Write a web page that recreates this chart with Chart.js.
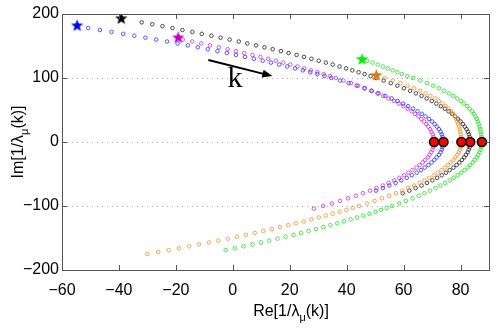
<!DOCTYPE html>
<html>
<head>
<meta charset="utf-8">
<script src="https://cdn.jsdelivr.net/npm/chart.js@4/dist/chart.umd.min.js"></script>
<style>
  html, body { margin: 0; padding: 0; background: #fff; }
</style>
</head>
<body>
<canvas id="eigChart" width="498" height="331"></canvas>
<script>
// Axis ticks
const xTickValues = [-60, -40, -20, 0, 20, 40, 60, 80];
const yTickValues = [-200, -100, 0, 100, 200];

// Curves: Re / Im of 1/lambda_mu(k)
const blueIm = [178, 175, 172, 169, 166, 163, 160, 157, 154, 151, 148, 145, 142, 139, 136, 133, 130, 127, 124, 121, 118, 115, 112, 109, 106, 103, 100,
  96, 92, 88, 84, 80, 76, 72, 68, 64, 60, 56, 52, 48, 44, 40, 36, 32, 28, 24, 20, 16, 12, 8, 4, 0,
  -4, -8, -12, -16, -20, -24, -28, -32, -36, -40, -44, -48, -52, -56, -60, -64, -68, -72, -76];
const blueRe = [-50.8, -46.7, -42.6, -38.5, -34.6, -30.7, -26.9, -23.1, -19.4, -15.8, -12.3, -8.8, -5.4, -2.1, 1.1, 4.3, 7.4, 10.5, 13.4, 16.3, 19.1, 21.9, 24.6, 27.2, 29.7, 32.2, 34.6,
  37.7, 40.7, 43.5, 46.2, 48.8, 51.2, 53.6, 55.8, 57.9, 59.8, 61.6, 63.3, 64.9, 66.4, 67.7, 68.9, 70.0, 70.9, 71.7, 72.4, 73.0, 73.4, 73.7, 73.9, 74.0,
  73.9, 73.7, 73.4, 73.0, 72.4, 71.6, 70.8, 69.8, 68.7, 67.4, 66.1, 64.6, 62.9, 61.1, 59.2, 57.2, 55.0, 52.7, 50.3];

const magentaIm = [160, 157, 154, 151, 148, 145, 142, 139, 136, 133, 130, 127, 124, 121, 118, 115, 112, 109, 106, 103, 100,
  96, 92, 88, 84, 80, 76, 72, 68, 64, 60, 56, 52, 48, 44, 40, 36, 32, 28, 24, 20, 16, 12, 8, 4, 0,
  -4, -8, -12, -16, -20, -24, -28, -32, -36, -40, -44, -48, -52, -56, -60, -64, -68, -72, -76, -80, -84, -88, -92, -96, -100, -104];
const magentaRe = [-17.6, -14.3, -11.1, -8.0, -4.9, -1.8, 1.1, 4.0, 6.9, 9.7, 12.4, 15.1, 17.7, 20.2, 22.7, 25.1, 27.4, 29.7, 31.9, 34.1, 36.2,
  38.9, 41.5, 44.0, 46.4, 48.6, 50.8, 52.8, 54.7, 56.6, 58.3, 59.9, 61.4, 62.8, 64.0, 65.2, 66.2, 67.2, 68.0, 68.7, 69.3, 69.8, 70.2, 70.5, 70.6, 70.7,
  70.6, 70.5, 70.1, 69.7, 69.1, 68.5, 67.6, 66.7, 65.6, 64.5, 63.1, 61.7, 60.2, 58.5, 56.7, 54.7, 52.7, 50.5, 48.2, 45.7, 43.2, 40.5, 37.7, 34.8, 31.7, 28.5];

const blackIm = [187, 184, 181, 178, 175, 172, 169, 166, 163, 160, 157, 154, 151, 148, 145, 142, 139, 136, 133, 130, 127, 124, 121, 118, 115, 112, 109, 106, 103, 100,
  96, 92, 88, 84, 80, 76, 72, 68, 64, 60, 56, 52, 48, 44, 40, 36, 32, 28, 24, 20, 16, 12, 8, 4, 0,
  -4, -8, -12, -16, -20, -24, -28, -32, -36, -40, -44, -48, -52, -56, -60, -64, -68, -72, -76, -80];
const blackRe = [-32.0, -28.3, -24.7, -21.2, -17.7, -14.2, -10.9, -7.5, -4.3, -1.1, 2.1, 5.1, 8.2, 11.1, 14.0, 16.9, 19.6, 22.4, 25.0, 27.6, 30.2, 32.7, 35.1, 37.5, 39.8, 42.0, 44.2, 46.3, 48.4, 50.4,
  53.0, 55.5, 57.8, 60.1, 62.3, 64.3, 66.3, 68.1, 69.9, 71.5, 73.1, 74.5, 75.8, 77.0, 78.1, 79.1, 80.0, 80.8, 81.5, 82.1, 82.6, 82.9, 83.2, 83.3, 83.4,
  83.3, 83.2, 82.9, 82.5, 81.9, 81.3, 80.5, 79.6, 78.6, 77.5, 76.2, 74.9, 73.4, 71.8, 70.1, 68.2, 66.3, 64.2, 62.0, 59.7];

const greenIm = [127, 124, 121, 118, 115, 112, 109, 106, 103, 100,
  96, 92, 88, 84, 80, 76, 72, 68, 64, 60, 56, 52, 48, 44, 40, 36, 32, 28, 24, 20, 16, 12, 8, 4, 0,
  -4, -8, -12, -16, -20, -24, -28, -32, -36, -40, -44, -48, -52, -56, -60, -64, -68, -72, -76, -80, -84, -88, -92, -96, -100,
  -103, -106, -109, -112, -115, -118, -121, -124, -127, -130, -133, -136, -139, -142, -145, -148, -151, -154, -157, -160, -163, -166, -169];
const greenRe = [47.2, 49.1, 50.9, 52.7, 54.4, 56.1, 57.8, 59.4, 61.3, 63.3,
  65.9, 68.2, 70.4, 72.4, 74.2, 75.9, 77.4, 78.8, 80.1, 81.2, 82.3, 83.2, 84.0, 84.7, 85.3, 85.7, 86.1, 86.4, 86.7, 86.9, 87.1, 87.3, 87.4, 87.5, 87.5,
  87.4, 87.3, 87.0, 86.7, 86.2, 85.7, 85.0, 84.3, 83.4, 82.5, 81.4, 80.2, 79.0, 77.6, 76.2, 74.6, 72.9, 71.2, 69.3, 67.3, 65.3, 63.1, 60.8, 58.5, 56.0,
  54.1, 52.1, 50.1, 48.0, 45.8, 43.6, 41.4, 39.1, 36.7, 34.3, 31.8, 29.2, 26.6, 24.0, 21.3, 18.5, 15.7, 12.8, 9.9, 6.9, 3.8, 0.7, -2.5];

const orangeIm = [100, 96, 92, 88, 84, 80, 76, 72, 68, 64, 60, 56, 52, 48, 44, 40, 36, 32, 28, 24, 20, 16, 12, 8, 4, 0,
  -4, -8, -12, -16, -20, -24, -28, -32, -36, -40, -44, -48, -52, -56, -60, -64, -68, -72, -76, -80, -84, -88, -92, -96, -100,
  -103, -106, -109, -112, -115, -118, -121, -124, -127, -130, -133, -136, -139, -142, -145, -148, -151, -154, -157, -160, -163, -166, -169, -172, -175];
const orangeRe = [53.3, 56.2, 58.9, 61.4, 63.7, 65.8, 67.7, 69.4, 71.0, 72.4, 73.7, 74.8, 75.8, 76.7, 77.4, 78.1, 78.5, 78.9, 79.2, 79.5, 79.7, 79.9, 80.1, 80.2, 80.3, 80.3,
  80.2, 80.1, 79.8, 79.4, 78.9, 78.2, 77.5, 76.6, 75.6, 74.5, 73.3, 72.0, 70.6, 69.0, 67.3, 65.6, 63.7, 61.6, 59.5, 57.3, 54.9, 52.4, 49.8, 47.1, 44.3,
  42.1, 39.9, 37.5, 35.1, 32.7, 30.2, 27.6, 24.9, 22.2, 19.5, 16.6, 13.7, 10.7, 7.7, 4.6, 1.4, -1.8, -5.1, -8.4, -11.9, -15.3, -18.9, -22.5, -26.2, -30.0];

// Start of each curve (stars), order: blue, black, magenta, green, orange
const startRe = [-54.7, -39.2, -19.2, 45.4, 50.4];
const startIm = [181.6, 192.6, 162.8, 129, 104];
const startColors = ['#0000ff', '#000000', '#c000c0', '#00ee00', '#e07a10'];

// Crossing of the real axis (red dots)
const vertexRe = [70.7, 74.0, 80.3, 83.4, 87.5];
const vertexIm = [0, 0, 0, 0, 0];

// Arrow and label
const arrowFrom = [-8.6, 128];
const arrowTo = [13.9, 103];
const kLabelAt = [0.8, 86];

const xTitleParts = ['Re[1/λ', 'μ', '(k)]'];
const yTitleParts = ['Im[1/λ', 'μ', '(k)]'];

const FONT = '"Liberation Sans", Arial, Helvetica, sans-serif';

function toPoints(re, im) {
    return re.map((x, i) => ({ x, y: im[i] }));
}

function fmt(v) {
    return String(v).replace('-', '\u2212');
}

// Filled pentagram used as point style
function makeStar(color, r) {
    const size = Math.ceil(r * 2 + 2);
    const c = document.createElement('canvas');
    c.width = size;
    c.height = size;
    const g = c.getContext('2d');
    g.beginPath();
    for (let i = 0; i < 10; i++) {
        const rad = i % 2 ? r * 0.42 : r;
        const ang = -Math.PI / 2 + i * Math.PI / 5;
        g.lineTo(size / 2 + rad * Math.cos(ang), size / 2 + rad * Math.sin(ang));
    }
    g.closePath();
    g.fillStyle = color;
    g.fill();
    return c;
}

function curve(re, im, color) {
    return {
        data: toPoints(re, im),
        showLine: false,
        borderColor: color,
        backgroundColor: 'rgba(0,0,0,0)',
        pointRadius: 1.8,
        pointBorderWidth: 0.8,
        pointHoverRadius: 1.8,
        order: 3
    };
}

// Text with a subscript in the middle part
function drawSubText(ctx, parts, size) {
    ctx.font = size + 'px ' + FONT;
    const w0 = ctx.measureText(parts[0]).width;
    ctx.font = Math.round(size * 0.7) + 'px ' + FONT;
    const w1 = ctx.measureText(parts[1]).width;
    ctx.font = size + 'px ' + FONT;
    const w2 = ctx.measureText(parts[2]).width;
    let x = -(w0 + w1 + w2) / 2;
    ctx.textAlign = 'left';
    ctx.textBaseline = 'alphabetic';
    ctx.fillText(parts[0], x, 0);
    x += w0;
    ctx.font = Math.round(size * 0.7) + 'px ' + FONT;
    ctx.fillText(parts[1], x, size * 0.3);
    x += w1;
    ctx.font = size + 'px ' + FONT;
    ctx.fillText(parts[2], x, 0);
}

const decorations = {
    id: 'decorations',
    afterDatasetsDraw(chart) {
        const { ctx, chartArea: a, scales: { x, y } } = chart;
        ctx.save();

        // axes box with inward ticks
        ctx.strokeStyle = '#555';
        ctx.lineWidth = 1;
        ctx.strokeRect(a.left + 0.5, a.top + 0.5, a.right - a.left, a.bottom - a.top);
        ctx.beginPath();
        xTickValues.forEach(v => {
            const px = Math.round(x.getPixelForValue(v)) + 0.5;
            ctx.moveTo(px, a.bottom); ctx.lineTo(px, a.bottom - 5);
            ctx.moveTo(px, a.top); ctx.lineTo(px, a.top + 5);
        });
        yTickValues.forEach(v => {
            const py = Math.round(y.getPixelForValue(v)) + 0.5;
            ctx.moveTo(a.left, py); ctx.lineTo(a.left + 5, py);
            ctx.moveTo(a.right, py); ctx.lineTo(a.right - 5, py);
        });
        ctx.stroke();

        // arrow
        const x0 = x.getPixelForValue(arrowFrom[0]), y0 = y.getPixelForValue(arrowFrom[1]);
        const x1 = x.getPixelForValue(arrowTo[0]), y1 = y.getPixelForValue(arrowTo[1]);
        const ang = Math.atan2(y1 - y0, x1 - x0);
        const head = 10;
        ctx.strokeStyle = '#000';
        ctx.fillStyle = '#000';
        ctx.lineWidth = 2;
        ctx.beginPath();
        ctx.moveTo(x0, y0);
        ctx.lineTo(x1 - head * 0.8 * Math.cos(ang), y1 - head * 0.8 * Math.sin(ang));
        ctx.stroke();
        ctx.beginPath();
        ctx.moveTo(x1, y1);
        ctx.lineTo(x1 - head * Math.cos(ang) + 4 * Math.sin(ang), y1 - head * Math.sin(ang) - 4 * Math.cos(ang));
        ctx.lineTo(x1 - head * Math.cos(ang) - 4 * Math.sin(ang), y1 - head * Math.sin(ang) + 4 * Math.cos(ang));
        ctx.closePath();
        ctx.fill();

        // k label
        ctx.font = '30px "Liberation Serif", "DejaVu Serif", serif';
        ctx.textAlign = 'center';
        ctx.textBaseline = 'alphabetic';
        ctx.fillText('k', x.getPixelForValue(kLabelAt[0]), y.getPixelForValue(kLabelAt[1]));

        // axis titles
        ctx.fillStyle = '#000';
        ctx.save();
        ctx.translate(291, 316);
        drawSubText(ctx, xTitleParts, 16);
        ctx.restore();
        ctx.save();
        ctx.translate(23, (a.top + a.bottom) / 2);
        ctx.rotate(-Math.PI / 2);
        drawSubText(ctx, yTitleParts, 16);
        ctx.restore();

        ctx.restore();
    }
};

const tickFont = { family: FONT, size: 16 };

new Chart(document.getElementById('eigChart'), {
    type: 'scatter',
    data: {
        datasets: [
            {
                data: toPoints(vertexRe, vertexIm),
                pointRadius: 4.5,
                pointHoverRadius: 4.5,
                backgroundColor: '#ff0000',
                borderColor: '#000',
                pointBorderWidth: 1.6,
                order: 0
            },
            {
                data: toPoints(startRe, startIm),
                pointStyle: startColors.map(c => makeStar(c, 6.5)),
                order: 1
            },
            curve(greenRe, greenIm, '#22dd22'),
            curve(orangeRe, orangeIm, '#ee9030'),
            curve(blackRe, blackIm, '#222222'),
            curve(blueRe, blueIm, '#3030ff'),
            curve(magentaRe, magentaIm, '#d030d0')
        ]
    },
    options: {
        responsive: false,
        animation: false,
        layout: { padding: { top: 14, right: 9, left: 0, bottom: 0 } },
        plugins: { legend: { display: false }, tooltip: { enabled: false } },
        scales: {
            x: {
                type: 'linear',
                min: -60,
                max: 90,
                afterBuildTicks: s => { s.ticks = xTickValues.map(v => ({ value: v })); },
                afterFit: s => { s.height = 61; },
                grid: { display: false, drawTicks: false },
                border: { display: false },
                ticks: { font: tickFont, color: '#000', padding: 11, maxRotation: 0, callback: v => fmt(v) }
            },
            y: {
                type: 'linear',
                min: -200,
                max: 200,
                afterBuildTicks: s => { s.ticks = yTickValues.map(v => ({ value: v })); },
                afterFit: s => { s.width = 62; },
                grid: {
                    drawTicks: false,
                    lineWidth: 1,
                    color: c => (c.tick && Math.abs(c.tick.value) === 200) ? 'rgba(0,0,0,0)' : '#aaaaaa'
                },
                border: { display: false, dash: [1, 4] },
                ticks: { font: tickFont, color: '#000', padding: 3, callback: v => fmt(v) }
            }
        }
    },
    plugins: [decorations]
});
</script>
</body>
</html>
